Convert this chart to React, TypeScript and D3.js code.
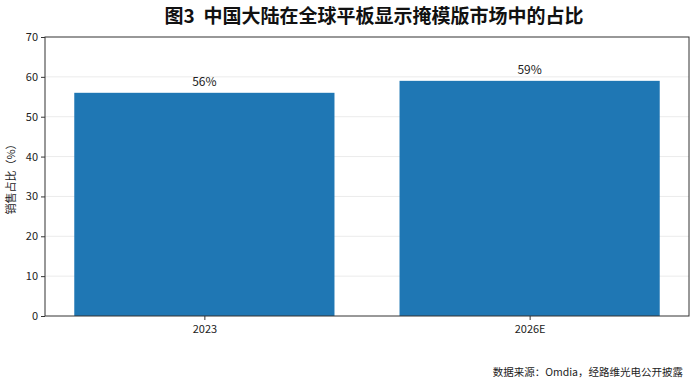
import React, { useEffect, useRef } from "react";
import * as d3 from "d3";

const categories = ["2023", "2026E"];
const shares = [56, 59];
const yTicks = [0, 10, 20, 30, 40, 50, 60, 70];

const App: React.FC = () => {
  const svgRef = useRef<SVGSVGElement | null>(null);

  useEffect(() => {
    if (!svgRef.current) return;
    const width = 700;
    const height = 387;
    const margin = { top: 37, right: 11, bottom: 71, left: 45 };
    const font = "'Noto Sans CJK SC', 'Noto Sans', sans-serif";

    const svg = d3.select(svgRef.current);
    svg.selectAll("*").remove();
    svg.attr("width", width).attr("height", height);

    const x = d3.scaleLinear().domain([-0.49, 1.49]).range([margin.left, width - margin.right]);
    const y = d3.scaleLinear().domain([0, 70]).range([height - margin.bottom, margin.top]);

    // grid
    svg.append("g")
      .selectAll("line")
      .data(yTicks.slice(1, -1))
      .enter()
      .append("line")
      .attr("x1", margin.left)
      .attr("x2", width - margin.right)
      .attr("y1", (d) => y(d))
      .attr("y2", (d) => y(d))
      .attr("stroke", "#ebebeb")
      .attr("stroke-width", 1);

    const bw = x(0.4) - x(0);
    svg.append("g")
      .selectAll("rect")
      .data(shares)
      .enter()
      .append("rect")
      .attr("x", (_d, i) => x(i) - bw)
      .attr("width", bw * 2)
      .attr("y", (d) => y(d))
      .attr("height", (d) => y(0) - y(d))
      .attr("fill", "#1f77b4");

    svg.append("g")
      .selectAll("text")
      .data(shares)
      .enter()
      .append("text")
      .attr("x", (_d, i) => x(i))
      .attr("y", (d) => y(d) - 7)
      .attr("text-anchor", "middle")
      .style("font-family", font)
      .style("font-size", "12px")
      .attr("fill", "#222")
      .text((d) => `${d}%`);

    // frame
    svg.append("rect")
      .attr("x", margin.left)
      .attr("y", margin.top)
      .attr("width", width - margin.right - margin.left)
      .attr("height", y(0) - margin.top)
      .attr("fill", "none")
      .attr("stroke", "#333")
      .attr("stroke-width", 1);

    const yAxis = svg.append("g")
      .attr("transform", `translate(${margin.left},0)`)
      .call(d3.axisLeft(y).tickValues(yTicks).tickSize(4).tickPadding(3));
    yAxis.select(".domain").remove();
    yAxis.selectAll("text").style("font-family", font).style("font-size", "11px").attr("fill", "#222");
    yAxis.selectAll("line").attr("stroke", "#333");

    const xAxis = svg.append("g")
      .attr("transform", `translate(0,${y(0)})`)
      .call(d3.axisBottom(x).tickValues([0, 1]).tickFormat((d) => categories[d as number]).tickSize(4).tickPadding(5));
    xAxis.select(".domain").remove();
    xAxis.selectAll("text").style("font-family", font).style("font-size", "11px").attr("fill", "#222");
    xAxis.selectAll("line").attr("stroke", "#333");

    svg.append("text")
      .attr("transform", `translate(15,${(margin.top + y(0)) / 2}) rotate(-90)`)
      .attr("text-anchor", "middle")
      .style("font-family", font)
      .style("font-size", "11px")
      .attr("fill", "#222")
      .text("销售占比（%）");

    svg.append("text")
      .attr("x", (margin.left + width - margin.right) / 2 + 7)
      .attr("y", 23)
      .attr("text-anchor", "middle")
      .style("font-family", font)
      .style("font-size", "19px")
      .style("font-weight", "bold")
      .style("white-space", "pre")
      .attr("fill", "#111")
      .text("图3  中国大陆在全球平板显示掩模版市场中的占比");

    svg.append("text")
      .attr("x", 683)
      .attr("y", 376)
      .attr("text-anchor", "end")
      .style("font-family", font)
      .style("font-size", "10.5px")
      .attr("fill", "#222")
      .text("数据来源：Omdia，经路维光电公开披露");
  }, []);

  return <svg ref={svgRef} style={{ position: "absolute", left: 0, top: 0 }}></svg>;
};

export default App;
